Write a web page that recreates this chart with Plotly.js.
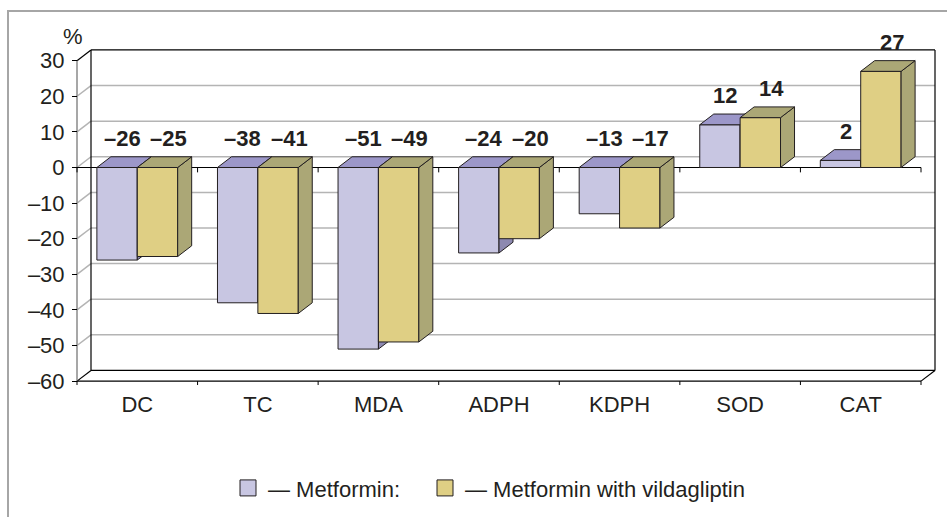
<!DOCTYPE html>
<html>
<head>
<meta charset="utf-8">
<script src="https://cdn.plot.ly/plotly-3.0.1.min.js"></script>
<style>html,body{margin:0;padding:0;background:#fff;}#chart{width:947px;height:517px;}</style>
</head>
<body>
<div id="chart"></div>
<script>
// ---- data ----
const categories = ['DC', 'TC', 'MDA', 'ADPH', 'KDPH', 'SOD', 'CAT'];
const metformin = [-26, -38, -51, -24, -13, 12, 2];
const metforminVilda = [-25, -41, -49, -20, -17, 14, 27];
const seriesNames = ['\u2014 Metformin:', '\u2014 Metformin with vildagliptin'];
const yTickVals = [-60, -50, -40, -30, -20, -10, 0, 10, 20, 30];
const yTickText = yTickVals.map(v => v < 0 ? '\u2013' + Math.abs(v) : String(v));
const valueText = v => v < 0 ? '\u2013' + Math.abs(v) : String(v);

// ---- geometry / styles ----
const W = 947, H = 517;
const M = {l: 72, r: 8, t: 48, b: 122};
const plotW = W - M.l - M.r, plotH = H - M.t - M.b;
const pxX = 120.571;              // px per category unit
const pxY = 329 / 90;             // px per % unit
const xMin = -0.5 - 5 / pxX, xMax = xMin + plotW / pxX;
const yMin = -60 - 5 / pxY, yMax = yMin + plotH / pxY;
const dX = 14 / pxX, dY = 11 / pxY;  // depth offsets
const barW = 0.335;
const offsets = [-0.335, 0];
const labelShift = [5, 11];       // px shift of value labels from front-face centre
const font = 'Liberation Sans, Arial, Helvetica, sans-serif';
const fs = 22;
const ink = '#231f20';
const colors = {
  front: ['#c8c6e2', '#dfcf84'],
  top: ['#9c97c9', '#aba776'],
  side: ['#8d89b0', '#aba776']
};
const gridCol = '#b4b4b4';
const yLo = Math.min(...yTickVals), yHi = Math.max(...yTickVals);
const nCat = categories.length;
const xs = categories.map((c, i) => i);

function faces(vals, s) {
  const tx = [], ty = [], sx = [], sy = [];
  vals.forEach((v, i) => {
    const xl = i + offsets[s], xr = xl + barW;
    const top = Math.max(v, 0), bot = Math.min(v, 0);
    tx.push(xl, xr, xr + dX, xl + dX, xl, null);
    ty.push(top, top, top + dY, top + dY, top, null);
    sx.push(xr, xr + dX, xr + dX, xr, xr, null);
    sy.push(top, top + dY, bot + dY, bot, top, null);
  });
  return {tx, ty, sx, sy};
}

const seriesVals = [metformin, metforminVilda];
const traces = [];
seriesVals.forEach((vals, s) => {
  const xa = s === 0 ? 'x' : 'x2', ya = s === 0 ? 'y' : 'y2';
  traces.push({
    type: 'bar', x: xs, y: vals, name: seriesNames[s],
    width: barW, offset: offsets[s], xaxis: xa, yaxis: ya, showlegend: false,
    marker: {color: colors.front[s], line: {color: ink, width: 1}},
    hoverinfo: 'skip'
  });
  const f = faces(vals, s);
  traces.push({
    type: 'scatter', mode: 'lines', x: f.sx, y: f.sy, fill: 'toself',
    fillcolor: colors.side[s], line: {color: ink, width: 1}, xaxis: xa, yaxis: ya,
    showlegend: false, hoverinfo: 'skip'
  });
  traces.push({
    type: 'scatter', mode: 'lines', x: f.tx, y: f.ty, fill: 'toself',
    fillcolor: colors.top[s], line: {color: ink, width: 1}, xaxis: xa, yaxis: ya,
    showlegend: false, hoverinfo: 'skip'
  });
  // legend key (square swatch)
  traces.push({
    type: 'scatter', mode: 'markers', x: [null], y: [null], name: seriesNames[s],
    xaxis: xa, yaxis: ya, legend: s === 0 ? 'legend' : 'legend2',
    marker: {symbol: 'square', size: 16, color: colors.front[s], line: {color: ink, width: 1}},
    hoverinfo: 'skip'
  });
});

// ---- chart frame shapes (walls, grid, axes) ----
const shapes = [];
const ln = (x0, y0, x1, y1, color, width) => shapes.push({
  type: 'line', xref: 'x', yref: 'y', x0, y0, x1, y1, layer: 'below',
  line: {color, width}
});
yTickVals.forEach(v => {
  const edge = (v === yLo || v === yHi);
  const c = edge ? '#000' : gridCol;
  ln(-0.5 + dX, v + dY, nCat - 0.5 + dX, v + dY, c, edge ? 1.2 : 1.5);
  ln(-0.5, v, -0.5 + dX, v + dY, c, edge ? 1.2 : 1.5);
});
ln(-0.5 + dX, yLo + dY, -0.5 + dX, yHi + dY, '#000', 1.2);
ln(nCat - 0.5 + dX, yLo + dY, nCat - 0.5 + dX, yHi + dY, '#000', 1.2);
ln(nCat - 0.5, yLo, nCat - 0.5 + dX, yLo + dY, '#000', 1.2);
ln(-0.5, yLo, -0.5, yHi, '#8a8a8a', 1.5);
ln(-0.5, yLo, nCat - 0.5, yLo, '#000', 1.2);
ln(-0.5, 0, nCat - 0.5, 0, '#000', 1.2);
for (let k = 0; k <= nCat; k++) {
  ln(k - 0.5, yLo, k - 0.5, yLo - 4 / pxY, '#000', 1);
  ln(k - 0.5, 0, k - 0.5, -5 / pxY, '#000', 1);
}
// outer frame
shapes.push({type: 'rect', xref: 'paper', yref: 'paper',
  x0: (8 - M.l) / plotW, x1: 1.5, y0: -1, y1: (M.t + plotH - 10) / plotH,
  line: {color: '#a6a6a6', width: 2}, layer: 'below'});

// ---- annotations ----
const annotations = [];
seriesVals.forEach((vals, s) => {
  vals.forEach((v, i) => {
    annotations.push({
      xref: 'x', yref: 'y', x: i + offsets[s] + barW / 2, y: Math.max(v, 0),
      text: '<b>' + valueText(v) + '</b>', showarrow: false, yshift: 29, xshift: labelShift[s],
      yanchor: 'middle', xanchor: 'center', font: {family: font, size: fs, color: ink}
    });
  });
});
annotations.push({xref: 'paper', yref: 'paper', x: (73 - M.l) / plotW, y: (M.t + plotH - 36) / plotH,
  text: '%', showarrow: false, xanchor: 'center', yanchor: 'middle',
  font: {family: font, size: fs, color: ink}});

const legendBase = {orientation: 'h', xanchor: 'left', y: -0.24, yanchor: 'top',
  font: {family: font, size: fs, color: ink}, bgcolor: 'rgba(0,0,0,0)'};

const layout = {
  width: W, height: H, margin: M, paper_bgcolor: '#fff', plot_bgcolor: 'rgba(0,0,0,0)',
  barmode: 'overlay', showlegend: true,
  font: {family: font, size: fs, color: ink},
  xaxis: {range: [xMin, xMax], tickvals: xs, ticktext: categories, ticks: '',
    showgrid: false, zeroline: false, showline: false, fixedrange: true,
    tickfont: {family: font, size: fs, color: ink}, ticklabelstandoff: 3},
  yaxis: {range: [yMin, yMax], tickvals: yTickVals, ticktext: yTickText, ticks: 'outside',
    ticklen: 5, tickcolor: '#000', tickwidth: 1, showgrid: false, zeroline: false, showline: false,
    anchor: 'free', position: 5 / plotW, ticklabelstandoff: 3, fixedrange: true,
    tickfont: {family: font, size: fs, color: ink}},
  xaxis2: {overlaying: 'x', matches: 'x', anchor: 'y2', showgrid: false, zeroline: false,
    showticklabels: false, showline: false, ticks: ''},
  yaxis2: {overlaying: 'y', matches: 'y', anchor: 'x2', showgrid: false, zeroline: false,
    showticklabels: false, showline: false, ticks: ''},
  legend: Object.assign({}, legendBase, {x: (228 - M.l) / plotW}),
  legend2: Object.assign({}, legendBase, {x: (425 - M.l) / plotW}),
  shapes, annotations
};

Plotly.newPlot('chart', traces, layout, {staticPlot: true, displayModeBar: false});
</script>
</body>
</html>
